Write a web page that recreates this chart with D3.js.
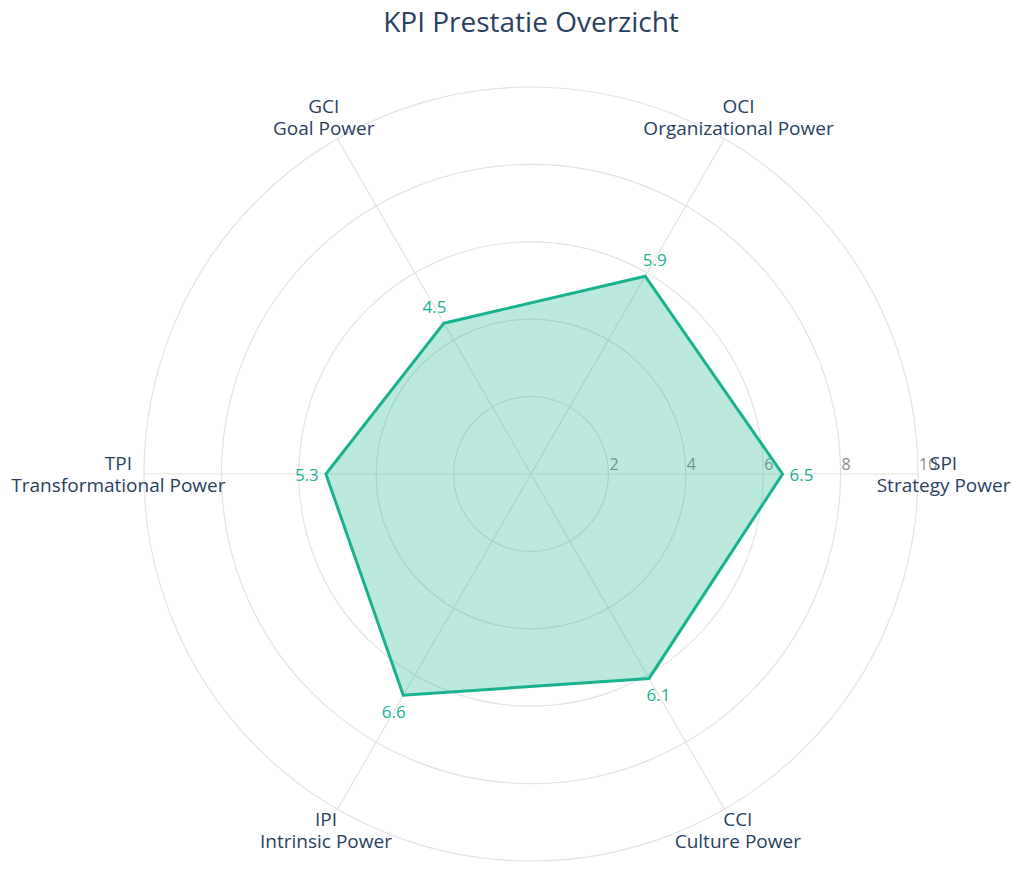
<!DOCTYPE html>
<html>
<head>
<meta charset="utf-8">
<script src="https://cdn.jsdelivr.net/npm/d3@7"></script>
<style>
  body { margin: 0; background: #fff; }
  text { font-family: "Open Sans", Lato, sans-serif; }
</style>
</head>
<body>
<script>
// data
const axisCodes = ["SPI", "OCI", "GCI", "TPI", "IPI", "CCI"];
const axisNames = ["Strategy Power", "Organizational Power", "Goal Power", "Transformational Power", "Intrinsic Power", "Culture Power"];
const kpiValues = [6.5, 5.9, 4.5, 5.3, 6.6, 6.1];
const radialTicks = [2, 4, 6, 8, 10];

(function(){
	const W = 1024, H = 873;
	const cx = 531, cy = 474, R = 387;
	const textColor = "#2a3f5f", lineColor = "#19b28f";

	const svg = d3.select("body").append("svg")
		.attr("width", W).attr("height", H);

	// radius scale
	const r = d3.scaleLinear().domain([0, 10]).range([0, R]);
	// angle: 0 = east, counterclockwise, in d3 radial convention (clockwise from north)
	const ang = d3.scaleLinear().domain([0, axisCodes.length]).range([Math.PI / 2, Math.PI / 2 - 2 * Math.PI]);

	const g = svg.append("g").attr("transform", "translate(" + cx + "," + cy + ")");

	// grid circles
	g.selectAll(".ring").data(radialTicks).enter().append("circle")
		.attr("class", "ring")
		.attr("r", d => r(d))
		.attr("fill", "none")
		.attr("stroke", "#e3e3e3")
		.attr("stroke-width", 1.2);

	// spokes
	g.selectAll(".spoke").data(axisCodes).enter().append("line")
		.attr("class", "spoke")
		.attr("x1", 0).attr("y1", 0)
		.attr("x2", (d, i) => r(10) * Math.sin(ang(i)))
		.attr("y2", (d, i) => -r(10) * Math.cos(ang(i)))
		.attr("stroke", "#e3e3e3")
		.attr("stroke-width", 1.2);

	// radial tick labels along east axis
	g.selectAll(".tick").data(radialTicks).enter().append("text")
		.attr("class", "tick")
		.attr("x", d => r(d) + 1)
		.attr("y", -4)
		.attr("fill", "#8a8a8a")
		.attr("font-size", 16)
		.text(d => d);

	// polygon
	const radar = d3.lineRadial()
		.angle((d, i) => ang(i))
		.radius(d => r(d))
		.curve(d3.curveLinearClosed);

	g.append("path")
		.datum(kpiValues)
		.attr("d", radar)
		.attr("fill", lineColor)
		.attr("fill-opacity", 0.29)
		.attr("stroke", lineColor)
		.attr("stroke-width", 3)
		.attr("stroke-linejoin", "miter");

	// value labels
	g.selectAll(".val").data(kpiValues).enter().append("text")
		.attr("class", "val")
		.attr("x", (d, i) => (r(d) + 19) * Math.sin(ang(i)))
		.attr("y", (d, i) => -(r(d) + 19) * Math.cos(ang(i)))
		.attr("text-anchor", "middle")
		.attr("dominant-baseline", "central")
		.attr("fill", lineColor)
		.attr("font-size", 17)
		.text(d => d.toFixed(1));

	// axis labels
	const lh = 22, pad = 12;
	axisCodes.forEach(function(code, i){
		const ux = Math.sin(ang(i)), uy = -Math.cos(ang(i));
		const lbl = g.append("text")
			.attr("class", "axis-label")
			.attr("fill", textColor)
			.attr("font-size", 19)
			.attr("text-anchor", "middle");
		const t1 = lbl.append("tspan").text(code);
		const w1 = t1.node().getComputedTextLength();
		const px = ux * (R + pad) + ux * w1 / 2;
		const py = uy * (R + pad);
		const sgn = Math.abs(uy) < 0.1 ? 0 : Math.sign(uy);
		const firstY = py - (lh / 2) * (1 - sgn);
		t1.attr("x", px).attr("y", firstY).attr("dy", "0.35em");
		lbl.append("tspan").attr("x", px).attr("y", firstY + lh).attr("dy", "0.35em").text(axisNames[i]);
	});

	// title
	svg.append("text")
		.attr("x", cx)
		.attr("y", 22)
		.attr("dy", "0.35em")
		.attr("text-anchor", "middle")
		.attr("fill", textColor)
		.attr("font-size", 28)
		.text("KPI Prestatie Overzicht");
})();
</script>
</body>
</html>
